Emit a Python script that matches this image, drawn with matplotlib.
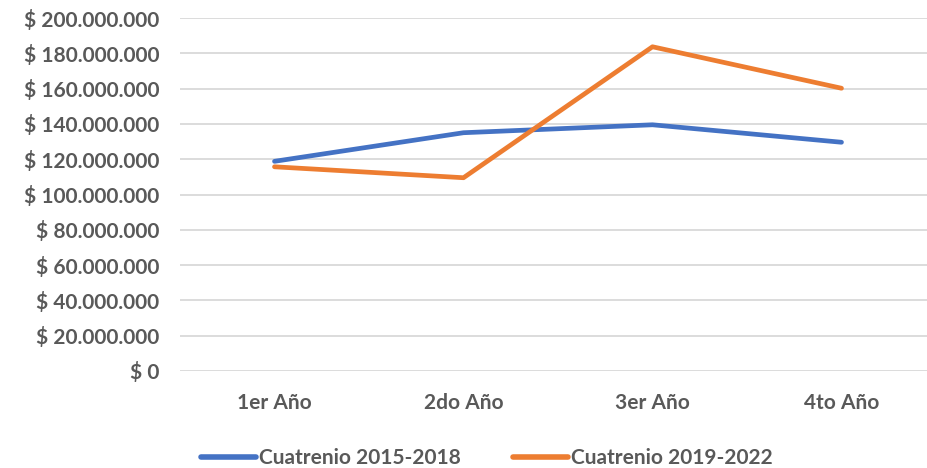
import numpy as np
import matplotlib
matplotlib.use("Agg")
import matplotlib.pyplot as plt
from matplotlib.ticker import FuncFormatter

categories = ["1er Año", "2do Año", "3er Año", "4to Año"]
serie_2015 = [118.8e6, 135.0e6, 139.5e6, 129.6e6]
serie_2019 = [115.7e6, 109.5e6, 183.7e6, 160.2e6]
labels = ["Cuatrenio 2015-2018", "Cuatrenio 2019-2022"]

plt.rcParams["font.family"] = ["Lato", "DejaVu Sans"]
plt.rcParams["font.weight"] = "bold"
gray = "#595959"

fig = plt.figure(figsize=(9.27, 4.68), dpi=100)
ax = fig.add_axes([180 / 927, 97 / 468, 756 / 927, 353 / 468])

x = np.arange(len(categories))
ax.plot(x, serie_2015, color="#4472C4", lw=3.4, solid_capstyle="round", label=labels[0])
ax.plot(x, serie_2019, color="#ED7D31", lw=3.4, solid_capstyle="round", label=labels[1])

ax.set_xlim(-0.5, 3.5)
ax.set_ylim(0, 200e6)
ax.set_yticks(np.arange(0, 200e6 + 1, 20e6))
ax.yaxis.set_major_formatter(FuncFormatter(lambda v, p: "$ " + f"{int(v):,}".replace(",", ".")))
ax.grid(axis="y", color="#D9D9D9", lw=1.3)
ax.set_axisbelow(True)
for s in ax.spines.values():
    s.set_visible(False)
ax.tick_params(length=0, labelsize=15, labelcolor=gray)
ax.tick_params(axis="y", pad=15)
ax.tick_params(axis="x", pad=16)
ax.set_xticks(x)
ax.set_xticklabels(categories, fontweight="bold")
for t in ax.get_yticklabels():
    t.set_fontweight("bold")

leg = fig.legend(loc="center", bbox_to_anchor=(487 / 927, 10 / 468), ncol=2, frameon=False,
                 fontsize=15, labelcolor=gray, handlelength=2.65, handletextpad=0.15,
                 columnspacing=2.5, bbox_transform=fig.transFigure)
for h in leg.get_lines():
    h.set_linewidth(4)

fig.savefig("out.png", dpi=100)
